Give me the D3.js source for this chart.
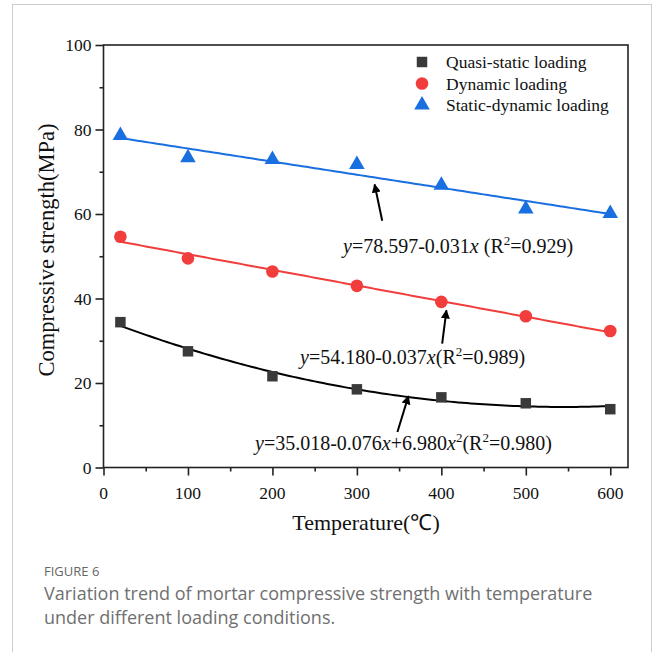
<!DOCTYPE html>
<html>
<head>
<meta charset="utf-8">
<script src="https://cdn.jsdelivr.net/npm/d3@7"></script>
<style>
  body { margin: 0; background: #fff; }
  svg { display: block; }
</style>
</head>
<body>
<div id="chart"></div>
<script>
// data
var temps = [20, 100, 200, 300, 400, 500, 600];
var quasiStatic = [34.4, 27.5, 21.6, 18.5, 16.6, 15.2, 13.8];
var dynamicLoad = [54.6, 49.5, 46.4, 43.0, 39.2, 35.8, 32.3];
var staticDynamic = [78.6, 73.3, 72.9, 71.7, 66.8, 61.2, 60.1];
var seriesNames = ["Quasi-static loading", "Dynamic loading", "Static-dynamic loading"];
// fit coefficients as printed on the chart (c0 + c1*x + c2*x^2)
var fitQuasi = [35.018, -0.076, 6.980e-5];
var fitDynamic = [54.180, -0.037, 0];
var fitStatic = [78.597, -0.031, 0];
var xTicks = [0, 100, 200, 300, 400, 500, 600];
var yTicks = [0, 20, 40, 60, 80, 100];

var W = 654, H = 652;
var svg = d3.select("#chart").append("svg").attr("width", W).attr("height", H);

// outer figure frame
svg.append("rect").attr("x", 12.5).attr("y", 4.5).attr("width", 639).attr("height", 700)
  .attr("fill", "none").attr("stroke", "#ccc").attr("stroke-width", 1);

var x = d3.scaleLinear().domain([0, 621]).range([103.5, 628]);
var y = d3.scaleLinear().domain([0, 100]).range([467.5, 45]);

var serif = "Liberation Serif";

// frame of the plot
svg.append("rect").attr("x", x(0)).attr("y", y(100))
  .attr("width", x(621) - x(0)).attr("height", y(0) - y(100))
  .attr("fill", "none").attr("stroke", "#222").attr("stroke-width", 1.6);

// axes (tick marks from d3.axis, labels drawn as plain text below)
svg.append("g").attr("transform", "translate(0," + y(0) + ")")
  .call(d3.axisBottom(x).tickValues(xTicks).tickSize(8).tickFormat(""));
svg.append("g").attr("transform", "translate(0," + y(0) + ")")
  .call(d3.axisBottom(x).tickValues(d3.range(50, 621, 100)).tickSize(4).tickFormat(""));
svg.append("g").attr("transform", "translate(" + x(0) + ",0)")
  .call(d3.axisLeft(y).tickValues(yTicks).tickSize(8).tickFormat(""));
svg.append("g").attr("transform", "translate(" + x(0) + ",0)")
  .call(d3.axisLeft(y).tickValues(d3.range(10, 100, 20)).tickSize(4).tickFormat(""));

svg.selectAll(".domain").remove();
svg.selectAll(".tick line").attr("stroke", "#222").attr("stroke-width", 1.6);

svg.append("g").selectAll("text").data(xTicks).enter().append("text")
  .attr("x", function(d) { return x(d); }).attr("y", y(0) + 31)
  .attr("text-anchor", "middle")
  .style("font-family", serif).style("font-size", "17.5px").attr("fill", "#111")
  .text(function(d) { return d; });
svg.append("g").selectAll("text").data(yTicks).enter().append("text")
  .attr("x", x(0) - 12).attr("y", function(d) { return y(d) + 6; })
  .attr("text-anchor", "end")
  .style("font-family", serif).style("font-size", "17.5px").attr("fill", "#111")
  .text(function(d) { return d; });

// axis titles
svg.append("text").attr("x", 366).attr("y", 530).attr("text-anchor", "middle")
  .style("font-family", serif).style("font-size", "22px").attr("fill", "#111")
  .text("Temperature(\u2103)");
svg.append("text").attr("transform", "translate(54,250) rotate(-90)")
  .attr("text-anchor", "middle")
  .style("font-family", serif).style("font-size", "22.5px").attr("fill", "#111")
  .text("Compressive strength(MPa)");

// fit curves
function fitLine(c) {
  var xs = d3.range(20, 601, 5);
  return xs.map(function(t) { return [t, c[0] + c[1] * t + c[2] * t * t]; });
}
var line = d3.line().x(function(d) { return x(d[0]); }).y(function(d) { return y(d[1]); });
var colQuasi = "#3a3a3a", colDyn = "#f23d3d", colStat = "#1a6fe0";

svg.append("path").datum(fitLine(fitQuasi)).attr("d", line)
  .attr("fill", "none").attr("stroke", "#000").attr("stroke-width", 2);
svg.append("path").datum(fitLine(fitDynamic)).attr("d", line)
  .attr("fill", "none").attr("stroke", colDyn).attr("stroke-width", 2);
svg.append("path").datum(fitLine(fitStatic)).attr("d", line)
  .attr("fill", "none").attr("stroke", colStat).attr("stroke-width", 2);

// markers
var sq = d3.symbol().type(d3.symbolSquare).size(110);
var ci = d3.symbol().type(d3.symbolCircle).size(125);
var tri = d3.symbol().type(d3.symbolTriangle).size(105);

svg.append("g").selectAll("path").data(temps).enter().append("path")
  .attr("d", sq).attr("fill", colQuasi)
  .attr("transform", function(d, i) { return "translate(" + x(d) + "," + y(quasiStatic[i]) + ")"; });
svg.append("g").selectAll("path").data(temps).enter().append("path")
  .attr("d", ci).attr("fill", colDyn)
  .attr("transform", function(d, i) { return "translate(" + x(d) + "," + y(dynamicLoad[i]) + ")"; });
svg.append("g").selectAll("path").data(temps).enter().append("path")
  .attr("d", tri).attr("fill", colStat)
  .attr("transform", function(d, i) { return "translate(" + x(d) + "," + y(staticDynamic[i]) + ")"; });

// legend
var legSyms = [sq, ci, tri], legCols = [colQuasi, colDyn, colStat];
var leg = svg.append("g");
seriesNames.forEach(function(name, i) {
  var cy = 62 + i * 21.5;
  leg.append("path").attr("d", legSyms[i]).attr("fill", legCols[i])
    .attr("transform", "translate(422," + cy + ")");
  leg.append("text").attr("x", 446).attr("y", cy + 6)
    .style("font-family", serif).style("font-size", "17.5px").attr("fill", "#111").text(name);
});

// arrows
var defs = svg.append("defs");
defs.append("marker").attr("id", "ah").attr("viewBox", "0 0 10 10")
  .attr("refX", 9).attr("refY", 5)
  .attr("markerUnits", "userSpaceOnUse").attr("orient", "auto")
  .attr("markerWidth", 9).attr("markerHeight", 11)
  .append("path").attr("d", "M0,0 L10,5 L0,10 z").attr("fill", "#000");

var arrows = [
  { from: [330, 58.4], to: [321, 67.0] },
  { from: [401, 29.3], to: [406, 37.2] },
  { from: [348, 8.4], to: [361, 16.9] }
];
arrows.forEach(function(a) {
  svg.append("line").attr("x1", x(a.from[0])).attr("y1", y(a.from[1]))
    .attr("x2", x(a.to[0])).attr("y2", y(a.to[1]))
    .attr("stroke", "#000").attr("stroke-width", 2).attr("marker-end", "url(#ah)");
});

// equation labels
function eqLabel(px, py, parts) {
  var t = svg.append("text").attr("x", px).attr("y", py)
    .style("font-family", serif).style("font-size", "20px").attr("fill", "#111");
  parts.forEach(function(p) {
    var s = t.append("tspan").text(p[0]);
    if (p[1] === "i") s.style("font-style", "italic");
    if (p[1] === "sup") s.attr("dy", -8).style("font-size", "13px");
    if (p[1] === "down") s.attr("dy", 8);
  });
}
eqLabel(343, 253, [["y", "i"], ["=78.597-0.031"], ["x", "i"], [" (R"], ["2", "sup"], ["=0.929)", "down"]]);
eqLabel(300, 364, [["y", "i"], ["=54.180-0.037"], ["x", "i"], ["(R"], ["2", "sup"], ["=0.989)", "down"]]);
eqLabel(255, 450, [["y", "i"], ["=35.018-0.076"], ["x", "i"], ["+6.980"], ["x", "i"], ["2", "sup"],
  ["(R", "down"], ["2", "sup"], ["=0.980)", "down"]]);

// caption
var sans = "'Open Sans', 'Noto Sans', sans-serif";
svg.append("text").attr("x", 44).attr("y", 576)
  .style("font-family", sans).style("font-size", "13px").attr("fill", "#666").text("FIGURE 6");
svg.append("text").attr("x", 44).attr("y", 600)
  .style("font-family", sans).style("font-size", "18px").attr("fill", "#707070")
  .text("Variation trend of mortar compressive strength with temperature");
svg.append("text").attr("x", 44).attr("y", 624)
  .style("font-family", sans).style("font-size", "18px").attr("fill", "#707070")
  .text("under different loading conditions.");
</script>
</body>
</html>
